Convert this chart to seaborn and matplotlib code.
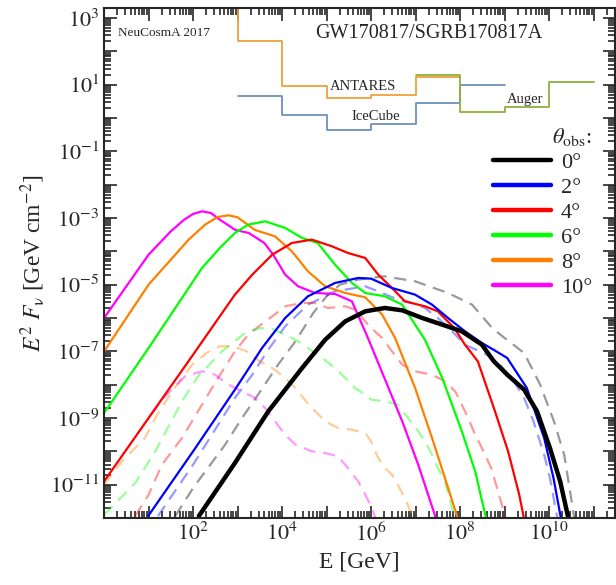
import numpy as np
import matplotlib
matplotlib.use("Agg")
import matplotlib.pyplot as plt
import seaborn as sns
from matplotlib.lines import Line2D
from matplotlib.ticker import LogLocator, FuncFormatter, NullFormatter

# ==============================
# Data (log10 E [GeV], log10 E^2 F [GeV cm^-2])
# ==============================
angles = ["0°", "2°", "4°", "6°", "8°", "10°"]
colors = ["black", "blue", "red", "#00ff00", "#ff8000", "#ff00ff"]

# solid curves
lx_0 = [2.13, 2.94, 3.69, 4.45, 4.97, 5.42, 5.87, 6.31, 6.7, 7.15, 7.6, 8.04, 8.49, 8.76, 9.06, 9.44, 9.73, 10.02, 10.25, 10.45]
ly_0 = [-11.94, -10.35, -8.8, -7.5, -6.65, -6.1, -5.8, -5.7, -5.77, -6.0, -6.2, -6.4, -6.8, -7.3, -7.7, -8.15, -8.8, -9.9, -10.9, -12.1]

lx_2 = [0.99, 2.0, 2.94, 3.55, 4.07, 4.58, 5.19, 5.71, 6.0, 6.47, 6.99, 7.37, 7.73, 8.11, 8.49, 8.75, 9.06, 9.5, 9.89, 10.1, 10.28]
ly_2 = [-11.94, -10.0, -8.15, -6.9, -6.0, -5.35, -4.95, -4.8, -4.82, -5.1, -5.3, -5.6, -6.0, -6.4, -6.75, -6.95, -7.2, -8.1, -9.6, -10.8, -12.1]

lx_4 = [0, 1.0, 2.0, 2.94, 3.33, 3.78, 4.22, 4.67, 5.12, 5.48, 5.87, 6.16, 6.47, 6.76, 7.21, 7.5, 7.87, 8.11, 8.4, 8.76, 9.08, 9.33, 9.45]
ly_4 = [-10.9, -9.0, -7.1, -5.3, -4.7, -4.1, -3.75, -3.65, -3.85, -4.05, -4.2, -4.7, -5.1, -5.5, -5.65, -5.8, -6.3, -6.8, -7.3, -8.7, -10.0, -11.3, -12.1]

lx_6 = [0, 1.0, 1.6, 2.2, 2.6, 2.94, 3.24, 3.62, 4.07, 4.45, 4.8, 5.19, 5.57, 5.87, 6.31, 6.7, 6.99, 7.21, 7.6, 8.04, 8.34, 8.6]
ly_6 = [-8.85, -6.9, -5.7, -4.5, -3.9, -3.45, -3.2, -3.1, -3.3, -3.6, -3.75, -4.4, -4.95, -5.25, -5.35, -5.6, -6.2, -6.65, -7.8, -9.4, -10.6, -12.1]

lx_8 = [0, 0.5, 1.0, 1.5, 1.9, 2.27, 2.55, 2.8, 3.0, 3.39, 3.84, 4.22, 4.58, 4.97, 5.42, 5.87, 6.25, 6.54, 6.99, 7.37, 7.66, 7.97]
ly_8 = [-7.0, -6.0, -5.0, -4.25, -3.65, -3.2, -2.97, -2.92, -2.98, -3.36, -3.55, -4.0, -4.6, -5.05, -5.25, -5.38, -5.9, -6.6, -8.1, -9.6, -10.8, -12.1]

lx_10 = [0, 0.5, 1.0, 1.5, 1.8, 2.0, 2.2, 2.4, 2.6, 2.95, 3.25, 3.6, 3.8, 4.07, 4.36, 4.74, 5.19, 5.57, 5.93, 6.3, 6.7, 7.06, 7.48]
ly_10 = [-6.0, -5.05, -4.1, -3.4, -3.05, -2.88, -2.8, -2.85, -3.05, -3.36, -3.45, -3.75, -4.1, -4.7, -5.05, -5.25, -5.28, -5.5, -6.6, -7.8, -9.1, -10.4, -12.1]

# dashed (faint) curves
dlx_0 = [1.6, 2.0, 2.72, 3.1, 3.46, 3.91, 4.3, 4.7, 5.0, 5.3, 5.7, 6.3, 6.99, 7.73, 8.27, 8.72, 9.0, 9.44, 9.8, 10.11, 10.34, 10.52, 10.58]
dly_0 = [-11.94, -11.1, -9.8, -9.0, -8.3, -7.4, -6.7, -5.85, -5.35, -5.0, -4.85, -4.75, -4.9, -5.25, -5.6, -6.3, -6.6, -7.05, -8.0, -9.1, -10.1, -11.6, -12.1]

dlx_2 = [1.21, 2.0, 2.94, 3.33, 3.69, 4.07, 4.58, 5.19, 5.87, 6.25, 6.6, 6.92, 7.21, 7.5, 7.82, 8.11, 8.6, 8.9, 9.21, 9.44, 9.65, 9.89, 10.02, 10.2]
dly_2 = [-11.94, -10.4, -8.4, -7.7, -6.95, -6.25, -5.6, -5.2, -5.05, -5.25, -5.45, -5.55, -5.7, -6.0, -6.4, -6.8, -7.1, -7.4, -7.9, -8.4, -9.1, -10.1, -10.8, -12.1]

dlx_4 = [0.7, 1.0, 1.3, 1.75, 2.11, 2.56, 2.94, 3.24, 3.62, 3.78, 4.07, 4.45, 4.74, 5.03, 5.42, 5.64, 6.0, 6.25, 6.47, 6.7, 6.99, 7.37, 7.66, 7.89, 8.04, 8.18, 8.34, 8.49, 8.7, 8.94, 9.04]
dly_4 = [-11.94, -11.3, -10.4, -9.6, -8.8, -7.8, -7.0, -6.5, -6.1, -5.95, -5.65, -5.55, -5.55, -5.7, -5.65, -5.75, -6.3, -6.6, -7.0, -7.4, -7.6, -7.7, -7.9, -8.2, -8.6, -9.0, -9.5, -9.9, -10.5, -11.6, -12.1]

dlx_6 = [0, 0.7, 1.15, 1.75, 2.11, 2.65, 3.17, 3.5, 3.78, 4.07, 4.36, 4.8, 5.19, 5.42, 5.64, 5.87, 6.0, 6.31, 6.6, 6.83, 7.06, 7.21, 7.37, 7.5, 7.66, 7.84, 7.92]
dly_6 = [-11.9, -10.95, -10.0, -8.5, -7.75, -7.0, -6.45, -6.3, -6.33, -6.5, -6.7, -7.1, -7.5, -7.8, -8.1, -8.3, -8.45, -8.5, -8.6, -9.0, -9.4, -9.7, -10.1, -10.5, -10.9, -11.8, -12.1]

dlx_8 = [0, 0.4, 0.92, 1.15, 1.53, 1.98, 2.3, 2.6, 2.9, 3.2, 3.5, 3.78, 4.07, 4.3, 4.6, 4.97, 5.26, 5.57, 5.87, 6.0, 6.16, 6.31, 6.47, 6.6, 6.76, 6.98]
dly_8 = [-11.0, -10.3, -9.6, -9.0, -8.2, -7.4, -7.05, -6.85, -6.85, -7.0, -7.3, -7.5, -7.8, -8.1, -8.6, -9.1, -9.3, -9.35, -9.45, -9.7, -10.2, -10.5, -10.7, -11.0, -11.4, -12.1]

dlx_10 = [1.05, 1.37, 1.82, 2.2, 2.49, 2.8, 3.1, 3.39, 3.62, 3.84, 4.07, 4.3, 4.67, 4.97, 5.26, 5.48, 5.71, 5.87, 6.02, 6.12]
dly_10 = [-8.9, -8.35, -7.75, -7.6, -7.7, -8.0, -8.2, -8.4, -8.7, -9.1, -9.5, -9.8, -10.0, -10.05, -10.15, -10.5, -10.9, -11.3, -11.7, -12.1]

solid_x = [lx_0, lx_2, lx_4, lx_6, lx_8, lx_10]
solid_y = [ly_0, ly_2, ly_4, ly_6, ly_8, ly_10]
dash_x = [dlx_0, dlx_2, dlx_4, dlx_6, dlx_8, dlx_10]
dash_y = [dly_0, dly_2, dly_4, dly_6, dly_8, dly_10]

# detector upper limits (step functions, bin edges in GeV)
antares_E = [1e3, 1e3, 1e4, 1e5, 1e6, 1e7, 1e8]
antares_F = [1e4, 200, 8.9, 4.0, 5.0, 16.6, 16.6]
icecube_E = [1e3, 1e4, 1e5, 1e6, 1e7, 1e8, 1e9]
icecube_F = [4.6, 1.2, 0.45, 0.66, 2.8, 9.6, 9.6]
auger_E = [1e7, 1e8, 1e9, 1e10, 1e11]
auger_F = [19.0, 1.5, 2.1, 11.7, 11.7]

# ==============================
# Style
# ==============================
sns.set_style("ticks")
plt.rcParams["font.family"] = ["Liberation Serif", "DejaVu Serif"]
plt.rcParams["mathtext.fontset"] = "stix"

fig = plt.figure(figsize=(6.16, 5.85), dpi=100)
ax = fig.add_axes([0.169, 0.1145, 0.829, 0.872])

# faint dashed curves first
for lx, ly, c in zip(dash_x, dash_y, colors):
    sns.lineplot(x=10 ** np.array(lx), y=10 ** np.array(ly), ax=ax, color=c, alpha=0.4,
                 lw=1.6, linestyle=(0, (5.5, 3.5)), estimator=None, sort=False)

# solid curves (black on top)
for i in reversed(range(6)):
    sns.lineplot(x=10 ** np.array(solid_x[i]), y=10 ** np.array(solid_y[i]), ax=ax,
                 color=colors[i], lw=3.2 if i == 0 else 1.6, estimator=None, sort=False)

# detector limits
ax.step(antares_E, antares_F, where="post", color="#e9a23b", lw=1.3)
ax.step(icecube_E, icecube_F, where="post", color="#6f8fc0", lw=1.3)
ax.step(auger_E, auger_F, where="post", color="#8db13b", lw=1.3)

ax.set(xscale="log", yscale="log")
ax.set_xlim(1.0, 3e11)
ax.set_ylim(1e-12, 2e3)

# ticks
ax.xaxis.set_major_locator(LogLocator(base=10, numticks=30))
ax.yaxis.set_major_locator(LogLocator(base=10, numticks=30))
ax.xaxis.set_minor_locator(LogLocator(base=10, subs=np.arange(2, 10), numticks=30))
ax.yaxis.set_minor_locator(LogLocator(base=10, subs=np.arange(2, 10), numticks=30))


def xfmt(v, pos):
    e = int(round(np.log10(v)))
    return rf"$10^{{{e}}}$" if (e % 2 == 0 and 2 <= e <= 10) else ""


def yfmt(v, pos):
    e = int(round(np.log10(v)))
    return rf"$10^{{{e}}}$" if e % 2 != 0 else ""


ax.xaxis.set_major_formatter(FuncFormatter(xfmt))
ax.yaxis.set_major_formatter(FuncFormatter(yfmt))
ax.xaxis.set_minor_formatter(NullFormatter())
ax.yaxis.set_minor_formatter(NullFormatter())
ax.tick_params(which="both", direction="in", top=True, right=True, width=1.2, labelsize=16)
ax.tick_params(which="major", length=9)
ax.tick_params(which="minor", length=5)
for s in ax.spines.values():
    s.set_linewidth(1.5)

ax.set_xlabel("E [GeV]", fontsize=17, labelpad=4)
ax.set_ylabel(r"$E^2\ F_{\mathrm{\nu}}$ [GeV cm$^{-2}$]", fontsize=17, labelpad=2)

# annotations (pixel positions measured from the top-left corner)
H = 585
ax.text(118, H - 33, "NeuCosmA 2017", transform=None, fontsize=9.5, va="center", ha="left")
ax.text(429, H - 33, "GW170817/SGRB170817A", transform=None, fontsize=14.5, va="center", ha="center")
ax.text(363, H - 87, "ANTARES", transform=None, fontsize=10.5, va="center", ha="center")
ax.text(376, H - 117, "IceCube", transform=None, fontsize=10.5, va="center", ha="center")
ax.text(525, H - 100, "Auger", transform=None, fontsize=10.5, va="center", ha="center")

# legend
handles = [Line2D([], [], color=c, lw=3.2) for c in colors]
leg = ax.legend(handles, angles, title=r"$\theta_{\rm obs}$:", loc="upper right",
                bbox_to_anchor=(592 / 616, (H - 126) / H), bbox_transform=fig.transFigure,
                frameon=False, fontsize=16, title_fontsize=16, handlelength=2.6,
                handletextpad=0.45, labelspacing=0.2, borderpad=0.0, borderaxespad=0.0,
                alignment="right")

fig.savefig("out.png", dpi=100)
